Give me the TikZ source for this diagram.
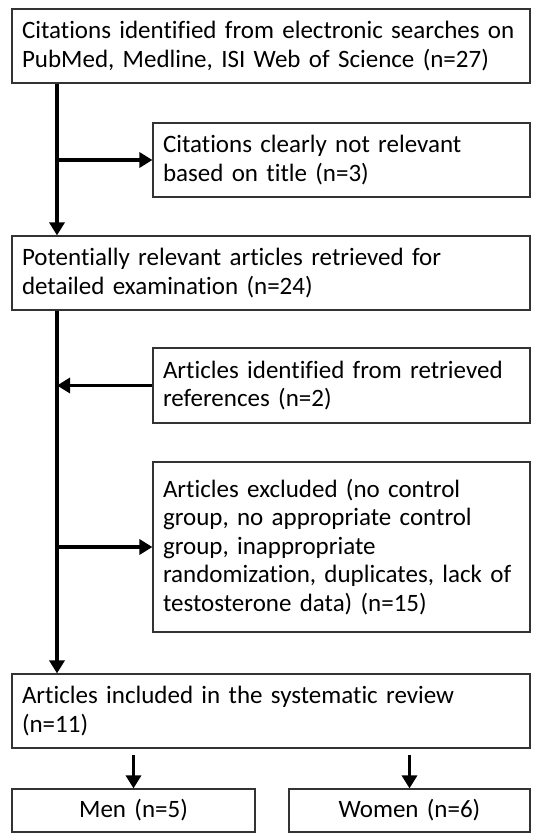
\documentclass[tikz,border=0pt]{standalone}
\usepackage{fontspec}
\setmainfont{Carlito}[Ligatures=NoCommon]
\usetikzlibrary{arrows.meta}
\newcommand{\myboxfont}{\fontsize{25}{28.5}\selectfont\spaceskip=3.8pt plus 1pt minus 0.5pt\relax}
\begin{document}
\begin{tikzpicture}[x=1pt,y=-1pt,
  box/.style={draw=black!80, line width=1.2pt, rectangle, inner xsep=10pt, inner ysep=0pt,
    align=left, font=\myboxfont},
  cbox/.style={box, align=center},
  arr/.style={line width=3.4pt, -{Triangle[length=13pt,width=15pt]}}]
\useasboundingbox (0,0) rectangle (535,840);
\node[box, text width=498pt, minimum height=74pt] (b1) at (271,46)
  {Citations identified from electronic searches on\\PubMed, Medline, ISI Web of Science (n=27)};
\node[box, text width=357pt, minimum height=74pt] (b2) at (341.5,160)
  {Citations clearly not relevant\\based on title (n=3)};
\node[box, text width=498pt, minimum height=74pt] (b3) at (271,273)
  {Potentially relevant articles retrieved for\\detailed examination (n=24)};
\node[box, text width=357pt, minimum height=75pt] (b4) at (341.5,385.5)
  {Articles identified from retrieved\\references (n=2)};
\node[box, text width=357pt, minimum height=170pt] (b5) at (341.5,547)
  {Articles excluded (no control\\group, no appropriate control\\group, inappropriate\\randomization, duplicates, lack of\\testosterone data) (n=15)};
\node[box, text width=498pt, minimum height=74pt] (b6) at (271,711)
  {Articles included in the systematic review\\(n=11)};
\node[cbox, text width=223pt, minimum height=43pt] (b7) at (133.5,810.5) {Men (n=5)};
\node[cbox, text width=221pt, minimum height=43pt] (b8) at (409.5,810.5) {Women (n=6)};
\coordinate (tx) at (57,0);
\coordinate (m7) at (133.5,755);
\coordinate (m8) at (409.5,755);
\draw[arr] (b1.south -| tx) -- (b3.north -| tx);
\draw[arr] (b2.west -| tx) -- (b2.west);
\draw[arr] (b3.south -| tx) -- (b6.north -| tx);
\draw[arr] (b4.west) -- (b4.west -| tx);
\draw[arr] (b5.west -| tx) -- (b5.west);
\draw[arr] (m7) -- (b7.north);
\draw[arr] (m8) -- (b8.north);
\end{tikzpicture}
\end{document}
